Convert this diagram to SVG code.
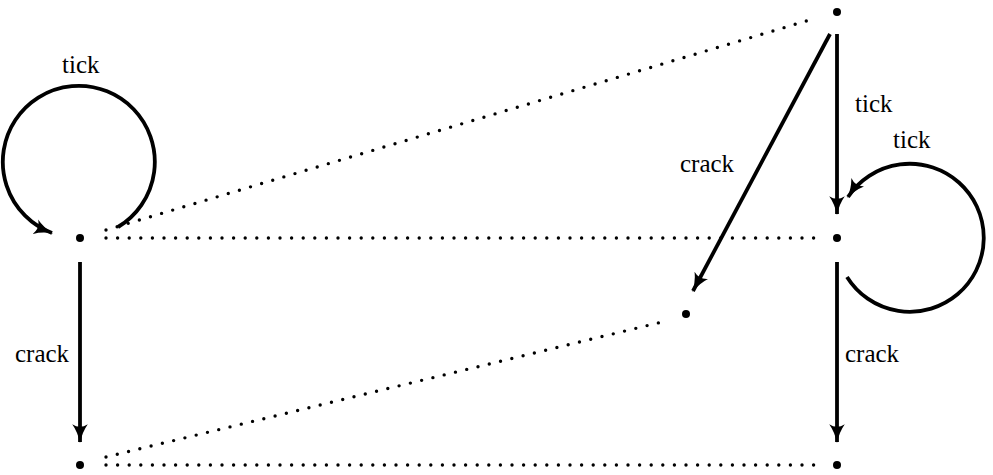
<svg xmlns="http://www.w3.org/2000/svg" width="993" height="475" viewBox="0 0 993 475">
<style>
.arr{stroke:#000;stroke-width:3.8;fill:none;marker-end:url(#ah)}
.dot{stroke:#000;stroke-width:3.4;fill:none;stroke-dasharray:0 11.6;stroke-linecap:round}
.node{fill:#000}
</style>
<defs>
<marker id="ah" markerUnits="userSpaceOnUse" markerWidth="20" markerHeight="16" refX="16" refY="7" orient="auto" viewBox="0 0 18 14">
<path d="M0,0 Q7,5 17,7 Q7,9 0,14 Q4.5,7 0,0 z" fill="#000"/>
</marker>
</defs>
<rect width="993" height="475" fill="#fff"/>
<g id="connectors">
<line class="dot" x1="106" y1="230" x2="813" y2="19"/>
<line class="dot" x1="106" y1="238" x2="815" y2="238"/>
<line class="dot" x1="106" y1="457" x2="662" y2="322"/>
<line class="dot" x1="106" y1="465" x2="815" y2="465"/>
<path class="arr" d="M118,227 A76,76 0 1 0 52,233"/>
<path class="arr" d="M847,277 A74,74 0 1 0 848,197"/>
<line class="arr" x1="837" y1="34" x2="837" y2="214"/>
<line class="arr" x1="830" y1="34" x2="693" y2="291"/>
<line class="arr" x1="80" y1="262" x2="80" y2="442"/>
<line class="arr" x1="837" y1="262" x2="837" y2="442"/>
</g>
<g id="labels" font-family="Liberation Serif, Times New Roman, serif" font-size="25" fill="#000">
<text x="62" y="73">tick</text>
<text x="855" y="112">tick</text>
<text x="893" y="148">tick</text>
<text x="680" y="172">crack</text>
<text x="15" y="362">crack</text>
<text x="845" y="362">crack</text>
</g>
<g id="n_top"><circle class="node" cx="837" cy="12" r="4"/></g>
<g id="n_left"><circle class="node" cx="80" cy="238" r="4"/></g>
<g id="n_right"><circle class="node" cx="837" cy="238" r="4"/></g>
<g id="n_mid"><circle class="node" cx="686" cy="314" r="4"/></g>
<g id="n_botleft"><circle class="node" cx="80" cy="465" r="4"/></g>
<g id="n_botright"><circle class="node" cx="837" cy="465" r="4"/></g>
</svg>
